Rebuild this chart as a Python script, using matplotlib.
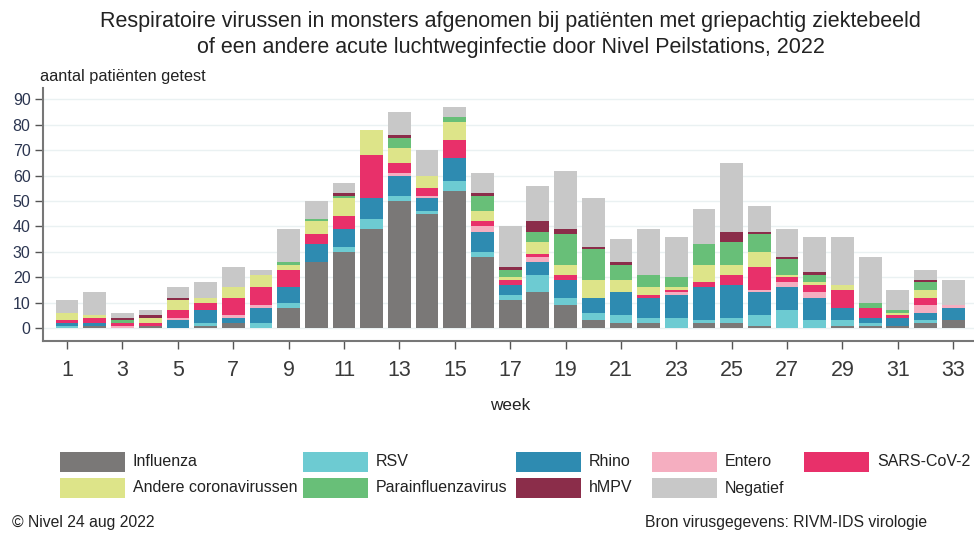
import numpy as np
import matplotlib
matplotlib.use("Agg")
import matplotlib.pyplot as plt
from matplotlib.patches import Rectangle

plt.rcParams['font.family'] = ['Liberation Sans', 'DejaVu Sans']

weeks = list(range(1, 34))
influenza = [0, 1, 0, 1, 0, 1, 2, 0, 8, 26, 30, 39, 50, 45, 54, 28, 11, 14, 9, 3, 2, 2, 0, 2, 2, 1, 0, 0, 1, 1, 1, 2, 3]
rsv       = [1, 0, 0, 0, 0, 1, 0, 2, 2, 0, 2, 4, 2, 1, 4, 2, 2, 7, 3, 3, 3, 2, 4, 1, 2, 4, 7, 3, 2, 1, 0, 1, 0]
rhino     = [1, 1, 0, 0, 3, 5, 2, 6, 6, 7, 7, 8, 8, 5, 9, 8, 4, 5, 7, 6, 9, 8, 9, 13, 13, 9, 9, 9, 5, 2, 3, 3, 5]
entero    = [0, 0, 1, 0, 1, 0, 1, 1, 0, 0, 0, 0, 1, 1, 0, 2, 0, 2, 0, 0, 0, 0, 1, 0, 0, 1, 2, 2, 0, 0, 0, 3, 1]
sars      = [1, 2, 1, 1, 3, 3, 7, 7, 7, 4, 5, 17, 4, 3, 7, 2, 2, 1, 2, 0, 0, 1, 1, 2, 4, 9, 2, 3, 7, 4, 1, 3, 0]
andere    = [3, 1, 0, 2, 4, 2, 4, 5, 2, 5, 7, 10, 6, 5, 7, 4, 1, 5, 4, 7, 5, 3, 1, 7, 4, 6, 1, 1, 2, 0, 1, 3, 0]
para      = [0, 0, 1, 0, 0, 0, 0, 0, 1, 1, 1, 0, 4, 0, 2, 6, 3, 4, 12, 12, 6, 5, 4, 8, 9, 7, 6, 3, 0, 2, 1, 3, 0]
hmpv      = [0, 0, 1, 1, 1, 0, 0, 0, 0, 0, 1, 0, 1, 0, 0, 1, 1, 4, 2, 1, 1, 0, 0, 0, 4, 1, 1, 1, 0, 0, 0, 1, 0]
negatief  = [5, 9, 2, 2, 4, 6, 8, 2, 13, 7, 4, 0, 9, 10, 4, 8, 16, 14, 23, 19, 9, 18, 16, 14, 27, 10, 11, 14, 19, 18, 8, 4, 10]

series_names = ["Influenza", "RSV", "Rhino", "Entero", "SARS-CoV-2",
                "Andere coronavirussen", "Parainfluenzavirus", "hMPV", "Negatief"]
series_values = [influenza, rsv, rhino, entero, sars, andere, para, hmpv, negatief]
colors = ["#7a7877", "#6dcbd2", "#2e8bb1", "#f5aec0", "#e8306a",
          "#dde489", "#68bf78", "#8b2d4a", "#c8c8c8"]

fig = plt.figure(figsize=(9.74, 5.33), dpi=100)
ax = fig.add_axes([43/974, 1-341/533, 1-43/974, (341-88)/533])

bottom = np.zeros(len(weeks))
for name, vals, c in zip(series_names, series_values, colors):
    v = np.array(vals, dtype=float)
    ax.bar(weeks, v, bottom=bottom, width=0.82, color=c, edgecolor='none', zorder=3, label=name)
    bottom += v

ax.set_xlim(0.13, 33.75)
ax.set_ylim(-5.1, 94.5)
ax.set_yticks(range(0, 91, 10))
ax.set_xticks(list(range(1, 34, 2)))
ax.tick_params(axis='y', labelsize=11.5, colors='#555555', labelcolor='#2b3550', length=6, width=1, pad=3)
ax.tick_params(axis='x', labelsize=15.5, colors='#555555', labelcolor='#3a3a3a', length=6, width=1, pad=8)
ax.grid(axis='y', color='#eaf1f2', linewidth=1, zorder=0)
ax.set_axisbelow(True)
for s in ['top', 'right']:
    ax.spines[s].set_visible(False)
for s in ['left', 'bottom']:
    ax.spines[s].set_color('#777777')
    ax.spines[s].set_linewidth(1.5)

fig.text(510/974, 1-21/533, "Respiratoire virussen in monsters afgenomen bij patiënten met griepachtig ziektebeeld",
         ha='center', va='center', fontsize=15.5, color='#222222')
fig.text(511/974, 1-48/533, "of een andere acute luchtweginfectie door Nivel Peilstations, 2022",
         ha='center', va='center', fontsize=15.5, color='#222222')
fig.text(40/974, 1-76/533, "aantal patiënten getest", ha='left', va='center', fontsize=11.8, color='#222222')
fig.text(510/974, 1-405/533, "week", ha='center', va='center', fontsize=12.3, color='#222222')

# legend
col_x = [60, 303, 516, 652, 804]
row_y = [462, 488]
order = [["Influenza", "RSV", "Rhino", "Entero", "SARS-CoV-2"],
         ["Andere coronavirussen", "Parainfluenzavirus", "hMPV", "Negatief"]]
cmap = dict(zip(series_names, colors))
for r, row in enumerate(order):
    for ci, name in enumerate(row):
        x0 = col_x[ci]
        yc = row_y[r]
        fig.patches.append(Rectangle((x0/974, 1-(yc+10)/533), 65/974, 20/533,
                                     transform=fig.transFigure, facecolor=cmap[name], edgecolor='none'))
        fig.text((x0+73)/974, 1-yc/533, name, ha='left', va='center', fontsize=11.5, color='#222222')

fig.text(12/974, 1-523/533, "© Nivel 24 aug 2022", ha='left', va='center', fontsize=11.3, color='#222222')
fig.text(645/974, 1-523/533, "Bron virusgegevens: RIVM-IDS virologie", ha='left', va='center', fontsize=11.3, color='#222222')

fig.savefig("out.png", dpi=100)
